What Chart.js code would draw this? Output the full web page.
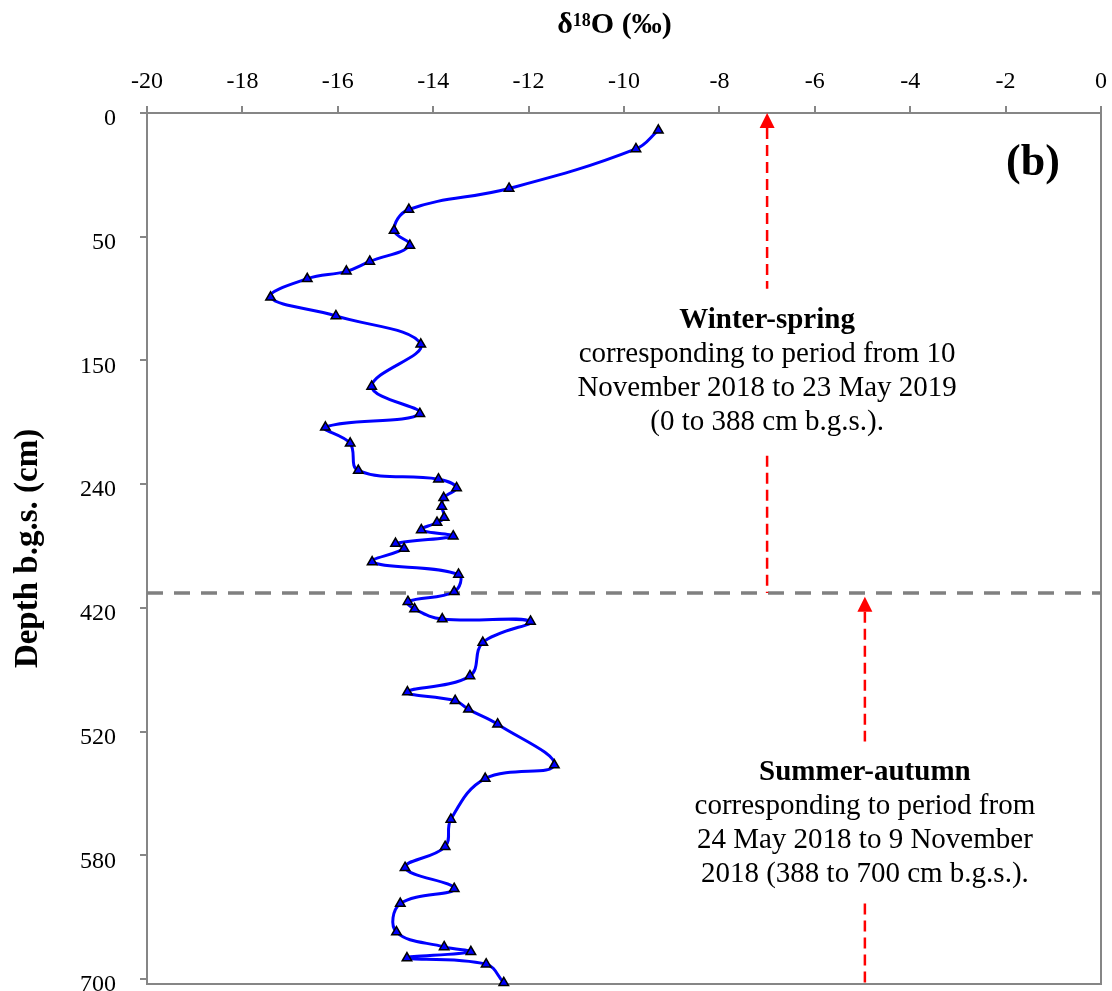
<!DOCTYPE html>
<html>
<head>
<meta charset="utf-8">
<script src="https://cdn.jsdelivr.net/npm/chart.js@4.4.1/dist/chart.umd.min.js"></script>
<style>
  html, body { margin: 0; padding: 0; background: #fff; }
  #chart { display: block; }
</style>
</head>
<body>
<canvas id="chart" width="1112" height="991"></canvas>
<script>
// Depth profile (cm b.g.s.) and d18O (permil)
const depths = [14, 29, 61, 78, 95, 107, 120, 128, 134, 149,
  164, 187, 221, 243, 254, 267, 289, 296, 303, 311,
  318, 327, 331, 337, 342, 348, 352, 363, 373, 387,
  395, 401, 409, 411, 428, 455, 468, 475, 482, 494,
  527, 538, 571, 593, 610, 627, 639, 662, 674, 678,
  683, 688, 703]
const d18O = [-9.28, -9.75, -12.41, -14.51, -14.82, -14.49, -15.33, -15.82, -16.64, -17.41,
  -16.04, -14.26, -15.29, -14.28, -16.26, -15.74, -15.57, -13.89, -13.51, -13.78,
  -13.82, -13.77, -13.92, -14.25, -13.58, -14.79, -14.61, -15.28, -13.47, -13.56,
  -14.53, -14.39, -13.81, -11.96, -12.96, -13.23, -14.54, -13.54, -13.26, -12.65,
  -11.46, -12.91, -13.63, -13.75, -14.59, -13.56, -14.69, -14.77, -13.77, -13.21,
  -14.55, -12.89, -12.52]

// axis ticks (the depth axis carries its own labels, as in the original)
const depthTickValues = [0, 100, 200, 300, 400, 500, 600, 700]
const depthTickLabels = ["0", "50", "150", "240", "420", "520", "580", "700"]
const boundaryDepth = 388

const winterLines = ["Winter-spring", "corresponding to period from 10", "November 2018 to 23 May 2019", "(0 to 388 cm b.g.s.)."]
const summerLines = ["Summer-autumn", "corresponding to period from", "24 May 2018 to 9 November", "2018 (388 to 700 cm b.g.s.)."]

const SERIF = '"Liberation Serif", "Times New Roman", serif'
const AXIS_GREY = "#868686"

// arrow / text placement in data units
const winterNote = { x: -7, textDepth: 168, arrowTop: 0, gapFrom: 142, gapTo: 277, arrowBottom: boundaryDepth }
const summerNote = { x: -4.95, textDepth: 533, arrowTop: 391, gapFrom: 508, gapTo: 639, arrowBottom: 704 }

function drawArrow(ctx, xs, ys, note) {
  const x = xs.getPixelForValue(note.x)
  const tip = ys.getPixelForValue(note.arrowTop)
  const head = 15
  ctx.save()
  ctx.fillStyle = "#ff0000"
  ctx.beginPath()
  ctx.moveTo(x, tip)
  ctx.lineTo(x - 7.5, tip + head)
  ctx.lineTo(x + 7.5, tip + head)
  ctx.closePath()
  ctx.fill()

  ctx.strokeStyle = "#ff0000"
  ctx.lineWidth = 2.5
  ctx.setLineDash([11, 6])
  ctx.beginPath()
  ctx.moveTo(x, tip + head)
  ctx.lineTo(x, ys.getPixelForValue(note.gapFrom))
  ctx.moveTo(x, ys.getPixelForValue(note.gapTo))
  ctx.lineTo(x, ys.getPixelForValue(note.arrowBottom))
  ctx.stroke()
  ctx.restore()
}

function drawNote(ctx, xs, ys, note, lines) {
  const x = xs.getPixelForValue(note.x)
  const y0 = ys.getPixelForValue(note.textDepth)
  ctx.save()
  ctx.fillStyle = "#000"
  ctx.textAlign = "center"
  ctx.textBaseline = "middle"
  lines.forEach((line, i) => {
    ctx.font = (i === 0 ? "bold " : "") + "29px " + SERIF
    ctx.fillText(line, x, y0 + i * 34)
  })
  ctx.restore()
}

const profileExtras = {
  id: "profileExtras",
  beforeDatasetsDraw(chart) {
    const { ctx, chartArea: a, scales } = chart
    const xs = scales.x, ys = scales.y

    // right and bottom sides of the frame
    ctx.save()
    ctx.strokeStyle = AXIS_GREY
    ctx.lineWidth = 2
    ctx.beginPath()
    ctx.moveTo(a.right, a.top)
    ctx.lineTo(a.right, a.bottom)
    ctx.lineTo(a.left, a.bottom)
    ctx.stroke()

    // season boundary
    const yb = ys.getPixelForValue(boundaryDepth)
    ctx.strokeStyle = "#808080"
    ctx.lineWidth = 3.5
    ctx.setLineDash([16, 11])
    ctx.beginPath()
    ctx.moveTo(a.left, yb)
    ctx.lineTo(a.right, yb)
    ctx.stroke()
    ctx.restore()

    drawArrow(ctx, xs, ys, winterNote)
    drawArrow(ctx, xs, ys, summerNote)
    drawNote(ctx, xs, ys, winterNote, winterLines)
    drawNote(ctx, xs, ys, summerNote, summerLines)
  },
  afterDraw(chart) {
    const { ctx, chartArea: a, scales } = chart
    ctx.save()
    ctx.fillStyle = "#000"
    ctx.textBaseline = "alphabetic"

    // panel letter
    ctx.font = "bold 44px " + SERIF
    ctx.textAlign = "center"
    ctx.fillText("(b)", a.right - 68, 175)

    // top axis title with superscript
    const big = "bold 30px " + SERIF, small = "bold 18px " + SERIF
    const parts = [["\u03b4", big, 0], ["18", small, -7], ["O (\u2030)", big, 0]]
    let total = 0
    parts.forEach(([t, f]) => { ctx.font = f; total += ctx.measureText(t).width })
    let x = scales.x.getPixelForValue(-10.2) - total / 2
    ctx.textAlign = "left"
    parts.forEach(([t, f, dy]) => {
      ctx.font = f
      ctx.fillText(t, x, 33 + dy)
      x += ctx.measureText(t).width
    })
    ctx.restore()
  }
}

const points = depths.map((d, i) => ({ x: d18O[i], y: d }))

new Chart(document.getElementById("chart"), {
  type: "scatter",
  data: {
    datasets: [{
      data: points,
      showLine: true,
      tension: 0.4,
      borderColor: "#0000ff",
      borderWidth: 3,
      pointStyle: "triangle",
      pointRadius: 5.5,
      pointBackgroundColor: "#0000ff",
      pointBorderColor: "#000",
      pointBorderWidth: 1.5,
      clip: false,
    }],
  },
  options: {
    responsive: false,
    animation: false,
    devicePixelRatio: 1,
    layout: { padding: { left: 0, top: 0, right: 11, bottom: 3 } },
    plugins: { legend: { display: false }, tooltip: { enabled: false } },
    scales: {
      x: {
        type: "linear",
        position: "top",
        min: -20,
        max: 0,
        ticks: { stepSize: 2, color: "#000", padding: 10, font: { family: SERIF, size: 24 } },
        grid: { drawOnChartArea: false, drawTicks: true, tickLength: 7, color: AXIS_GREY, lineWidth: 2 },
        border: { color: AXIS_GREY, width: 2 },
        afterFit: (s) => { s.height = 113; s.paddingLeft = 0; s.paddingRight = 0 },
      },
      y: {
        type: "linear",
        reverse: true,
        min: 0,
        max: 704,
        afterBuildTicks: (s) => { s.ticks = depthTickValues.map((v) => ({ value: v })) },
        ticks: {
          color: "#000",
          padding: 24,
          labelOffset: 6,
          font: { family: SERIF, size: 24 },
          callback: (v, i) => depthTickLabels[i],
        },
        grid: { drawOnChartArea: false, drawTicks: true, tickLength: 7, color: AXIS_GREY, lineWidth: 2 },
        border: { color: AXIS_GREY, width: 2 },
        title: {
          display: true,
          text: "Depth b.g.s. (cm)",
          color: "#000",
          padding: { top: 9, bottom: 0 },
          font: { family: SERIF, size: 33, weight: "bold" },
        },
        afterFit: (s) => { s.width = 147; s.paddingTop = 0; s.paddingBottom = 0 },
      },
    },
  },
  plugins: [profileExtras],
})
</script>
</body>
</html>
